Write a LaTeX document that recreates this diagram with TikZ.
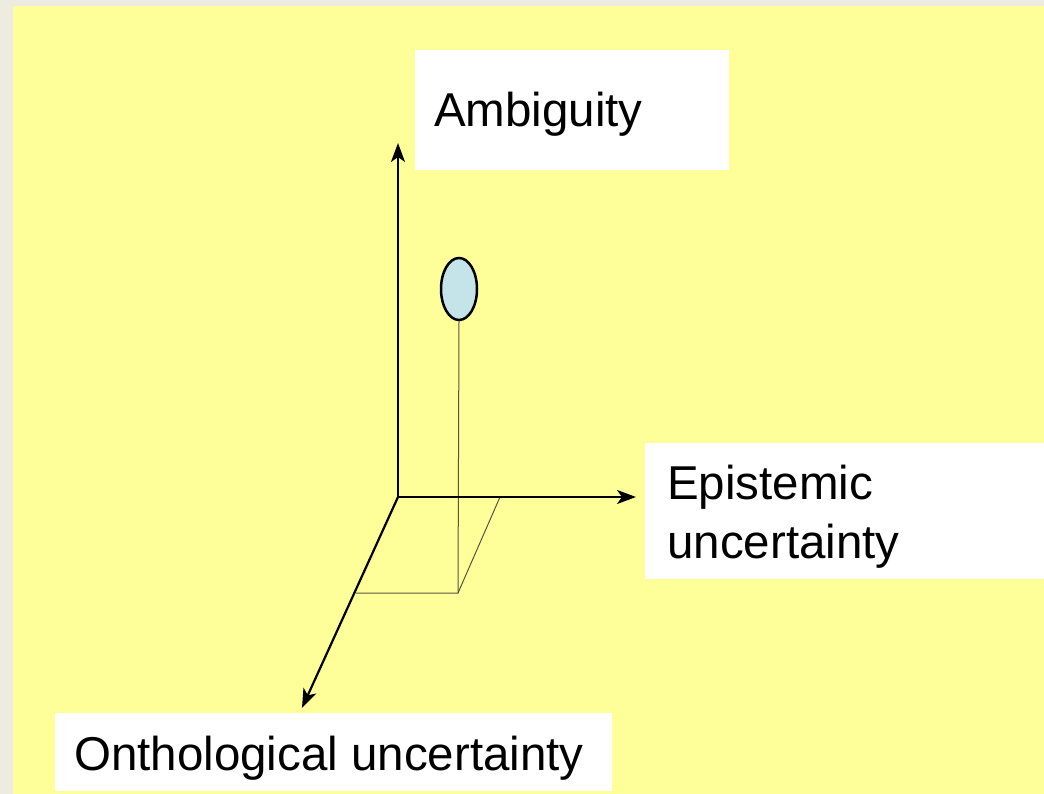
\documentclass[tikz,border=0pt]{standalone}
\usepackage{fontspec}
\setmainfont{Liberation Sans}
\usetikzlibrary{arrows.meta,shapes.geometric}
\definecolor{bggray}{HTML}{EEECE1}
\definecolor{bgyellow}{HTML}{FFFF99}
\definecolor{ellblue}{HTML}{C5E4EA}
\definecolor{thinline}{HTML}{555544}
\begin{document}
\begin{tikzpicture}[x=1pt,y=-1pt,
  axis/.style={line width=2.2pt,-{Stealth[length=19pt,width=14pt,inset=5pt]}},
  thin/.style={line width=1pt,draw=thinline},
  labelbox/.style={fill=white,inner sep=0pt,outer sep=0pt},
  lbl/.style={font=\fontsize{47.5}{59}\selectfont,inner sep=0pt,anchor=base west}]
\useasboundingbox (0,0) rectangle (1044,794);
\fill[bggray] (0,0) rectangle (1044,794);
\fill[bgyellow] (13,6) rectangle (1044,794);
% label boxes
\fill[labelbox] (415,50) rectangle (729,170);
\fill[labelbox] (645,443) rectangle (1044,579);
\fill[labelbox] (55,713) rectangle (612,791);
\node[lbl] (amb) at (434,127) {Ambiguity};
\node[lbl] (epi1) at (667,499) {Epistemic};
\node[lbl] (epi2) at (667,558) {uncertainty};
\node[lbl] (ont) at (74,770) {Onthological uncertainty};
% coordinates
\coordinate (O) at (398,497);
\coordinate (Ytip) at (398,143);
\coordinate (Xtip) at (636,497);
\coordinate (Ztip) at (302,708);
\coordinate (Px) at (500,497);
\coordinate (Pxz) at (458,593);
\coordinate (Pz) at (356,593);
% parallelogram and drop line
\draw[thin] (Px) -- (Pxz) -- (Pz);
\node[ellipse,draw=black,line width=2.5pt,fill=ellblue,minimum width=36pt,minimum height=62pt,inner sep=0pt] (pt) at (459,289) {};
\draw[thin] (pt.south) -- (Pxz);
% axes
\draw[axis] (O) -- (Ytip);
\draw[axis] (O) -- (Xtip);
\draw[axis] (O) -- (Ztip);
\end{tikzpicture}
\end{document}
